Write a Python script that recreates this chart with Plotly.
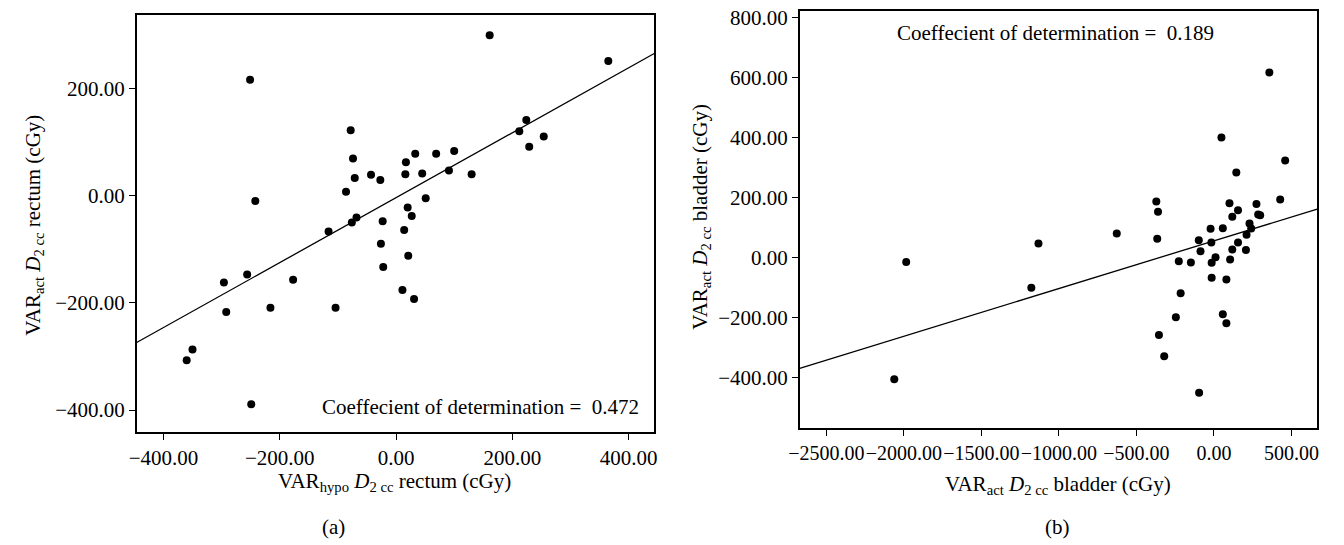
import plotly.graph_objects as go

# ---- Panel (a): rectum ----
rect_hypo = [-360, -350, -296, -292, -256, -251, -249, -242, -216, -177, -116, -104, -86, -78,
             -76, -74, -71, -68, -43, -27, -26, -23, -22, 11, 14, 16, 17, 20, 21, 27, 31, 33,
             45, 51, 69, 91, 100, 130, 161, 212, 224, 229, 254, 365]
rect_act = [-307, -287, -162, -217, -147, 216, -389, -10, -209, -157, -67, -209, 7, 122,
            -50, 69, 33, -41, 39, 29, -90, -48, -133, -176, -64, 40, 62, -22, -112, -38, -193, 78,
            41, -5, 78, 47, 83, 40, 299, 120, 141, 91, 110, 251]
fit_a_x = [-446, 444]
fit_a_y = [-274, 265]
r2_a = "0.472"

# ---- Panel (b): bladder ----
blad_x = [-2062, -1985, -1178, -1132, -627, -372, -361, -366, -355, -321, -246, -227, -215, -149,
          -98, -96, -87, -22, -17, -15, -15, 10, 48, 57, 57, 80, 80, 100, 104, 118, 118, 144,
          155, 155, 206, 210, 229, 240, 274, 285, 298, 357, 427, 459]
blad_y = [-406, -16, -101, 46, 79, 186, 152, 62, -259, -330, -200, -13, -120, -17,
          57, -451, 20, 95, 49, -18, -68, 0, 399, 97, -190, -74, -220, 180, -7, 135, 26, 283,
          157, 49, 24, 75, 113, 96, 178, 143, 140, 616, 193, 323]
fit_b_x = [-2672, 666]
fit_b_y = [-370, 161]
r2_b = "0.189"

a_xticks = [-400, -200, 0, 200, 400]
a_yticks = [-400, -200, 0, 200]
b_xticks = [-2500, -2000, -1500, -1000, -500, 0, 500]
b_yticks = [-400, -200, 0, 200, 400, 600, 800]

W, H = 1344, 545
FONT = "Liberation Serif"
FS = 21


def px(x):
    return min(1.0, max(0.0, x / W))


def py(y):
    return min(1.0, max(0.0, 1 - y / H))


fig = go.Figure()
fig.add_trace(go.Scatter(x=rect_hypo, y=rect_act, mode="markers",
                         marker=dict(color="black", size=8), xaxis="x", yaxis="y",
                         showlegend=False))
fig.add_trace(go.Scatter(x=fit_a_x, y=fit_a_y, mode="lines",
                         line=dict(color="black", width=1.3), xaxis="x", yaxis="y",
                         showlegend=False))
fig.add_trace(go.Scatter(x=blad_x, y=blad_y, mode="markers",
                         marker=dict(color="black", size=8), xaxis="x2", yaxis="y2",
                         showlegend=False))
fig.add_trace(go.Scatter(x=fit_b_x, y=fit_b_y, mode="lines",
                         line=dict(color="black", width=1.3), xaxis="x2", yaxis="y2",
                         showlegend=False))

axis_common = dict(showline=True, linecolor="black", linewidth=1.5, mirror=True,
                   ticks="outside", ticklen=6, tickwidth=1.2, tickcolor="black",
                   showgrid=False, zeroline=False, tickformat=".2f", tickangle=0,
                   tickfont=dict(family=FONT, size=FS, color="black"))

fig.update_layout(
    width=W, height=H,
    margin=dict(l=0, r=0, t=0, b=0),
    paper_bgcolor="white", plot_bgcolor="white",
    font=dict(family=FONT, size=FS, color="black"),
    xaxis=dict(axis_common, domain=[px(127), px(650)], range=[-446, 444],
               tickvals=a_xticks, anchor="y"),
    yaxis=dict(axis_common, domain=[py(431), py(10)], range=[-441, 337],
               tickvals=a_yticks, anchor="x"),
    xaxis2=dict(axis_common, domain=[px(797), px(1320)], range=[-2672, 666],
                tickvals=b_xticks, anchor="y2",
                tickfont=dict(family=FONT, size=20, color="black")),
    yaxis2=dict(axis_common, domain=[py(427), py(6)], range=[-569, 821],
                tickvals=b_yticks, anchor="x2", ticklabeloverflow="allow"),
)

ann = []
# axis titles
ann.append(dict(text="VAR<sub>hypo</sub> <i>D</i><sub>2 cc</sub> rectum (cGy)",
                x=px(388), y=py(481), xref="paper", yref="paper",
                xanchor="center", yanchor="middle", showarrow=False))
ann.append(dict(text="VAR<sub>act</sub> <i>D</i><sub>2 cc</sub> rectum (cGy)",
                x=px(23), y=py(222), xref="paper", yref="paper", textangle=-90,
                xanchor="center", yanchor="middle", showarrow=False))
ann.append(dict(text="VAR<sub>act</sub> <i>D</i><sub>2 cc</sub> bladder (cGy)",
                x=px(1058), y=py(484), xref="paper", yref="paper",
                xanchor="center", yanchor="middle", showarrow=False))
ann.append(dict(text="VAR<sub>act</sub> <i>D</i><sub>2 cc</sub> bladder (cGy)",
                x=px(697), y=py(214), xref="paper", yref="paper", textangle=-90,
                xanchor="center", yanchor="middle", showarrow=False))
# captions
ann.append(dict(text="(a)", x=px(326), y=py(527), xref="paper", yref="paper",
                xanchor="center", yanchor="middle", showarrow=False))
ann.append(dict(text="(b)", x=px(1058), y=py(527), xref="paper", yref="paper",
                xanchor="center", yanchor="middle", showarrow=False))
# R^2 texts
ann.append(dict(text="Coeffecient of determination =  " + r2_a,
                x=px(637), y=py(406), xref="paper", yref="paper",
                xanchor="right", yanchor="middle", showarrow=False))
ann.append(dict(text="Coeffecient of determination =  " + r2_b,
                x=px(893), y=py(28), xref="paper", yref="paper",
                xanchor="left", yanchor="middle", showarrow=False))

fig.update_layout(annotations=ann)
# remove the browser's default 8px body margin so the figure sits at the page origin
fig.write_html("out.html", config={"displayModeBar": False},
               post_script="document.body.style.margin='0';")
